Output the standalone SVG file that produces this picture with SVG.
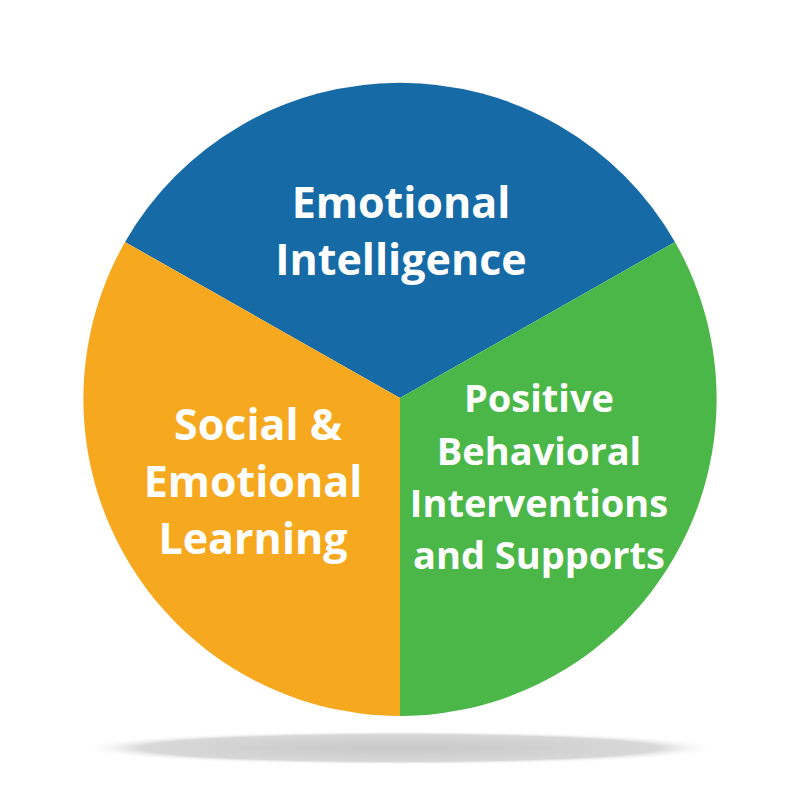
<svg xmlns="http://www.w3.org/2000/svg" width="800" height="800" viewBox="0 0 800 800">
<defs>
<radialGradient id="sh" cx="0.5" cy="0.5" r="0.5">
<stop offset="0" stop-color="#c8c8c8"/><stop offset="0.8" stop-color="#d8d8d8"/><stop offset="1" stop-color="#ffffff" stop-opacity="0"/>
</radialGradient>
<style>
text{font-family:"Open Sans","DejaVu Sans",sans-serif;font-weight:700;fill:#fff;text-anchor:middle}
</style>
</defs>
<rect width="800" height="800" fill="#fff"/>
<ellipse cx="400" cy="748" rx="322" ry="17" fill="url(#sh)"/>
<g id="blue"><path d="M400 398 L125 242 A317 317 0 0 1 675 242 Z" fill="#166ba7"/>
<text x="401" y="218" font-size="43">Emotional</text><text x="401" y="275" font-size="43">Intelligence</text></g>
<g id="green"><path d="M400 398 L675 242 A317 317 0 0 1 400 716 Z" fill="#4bb749"/>
<text x="539" y="412" font-size="38">Positive</text><text x="539" y="465" font-size="38">Behavioral</text><text x="539" y="517" font-size="38">Interventions</text><text x="539" y="569" font-size="38">and Supports</text></g>
<g id="orange"><path d="M400 398 L400 716 A317 317 0 0 1 125 242 Z" fill="#f6a81e"/>
<text x="258" y="440" font-size="43">Social &amp;</text><text x="253" y="497" font-size="43">Emotional</text><text x="253" y="554" font-size="43">Learning</text></g>
</svg>
